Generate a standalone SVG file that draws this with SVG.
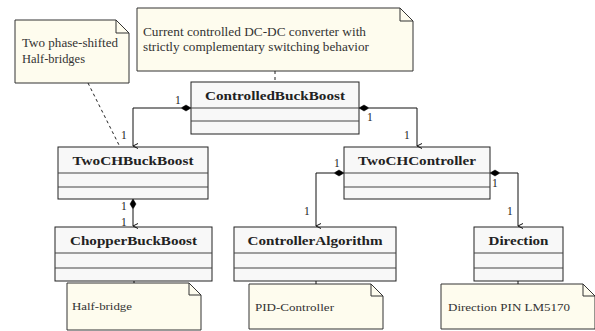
<svg xmlns="http://www.w3.org/2000/svg" width="595" height="331" viewBox="0 0 595 331">
<style>
text{font-family:'Liberation Serif','Times New Roman','DejaVu Serif',serif}
.box{fill:#f8f8f8;stroke:#222;stroke-width:1}
.div{stroke:#444;stroke-width:1}
.note{fill:#fefcee;stroke:#333;stroke-width:1}
.fold{fill:none;stroke:#333;stroke-width:1}
.title{font-weight:bold;font-size:13.5px;fill:#222;text-anchor:middle}
.ntext{font-size:12px;fill:#333}
.stext{font-size:11px;fill:#333}
.mult{font-size:11.5px;fill:#222}
.conn{fill:none;stroke:#111;stroke-width:1}
.dash{fill:none;stroke:#222;stroke-width:1;stroke-dasharray:3,3}
.dia{fill:#000;stroke:#000;stroke-width:0.5}
</style>
<defs>
<marker id="arr" markerWidth="8" markerHeight="8" refX="4" refY="7" orient="auto" markerUnits="userSpaceOnUse" viewBox="0 0 8 8">
<path d="M1.5,2 L4,7 L6.5,2" fill="none" stroke="#111" stroke-width="1"/>
</marker>
</defs>

<g id="note-halfbridges">
<path class="note" d="M15,20 H116 L129,33 V83 H15 Z"/>
<path class="fold" d="M116,20 V33 H129"/>
<text class="ntext" x="22" y="47" textLength="96" lengthAdjust="spacingAndGlyphs">Two phase-shifted</text>
<text class="ntext" x="22" y="63" textLength="63" lengthAdjust="spacingAndGlyphs">Half-bridges</text>
</g>
<g id="note-converter">
<path class="note" d="M137,8 H400 L413,21 V71 H137 Z"/>
<path class="fold" d="M400,8 V21 H413"/>
<text class="ntext" x="143" y="36" textLength="223" lengthAdjust="spacingAndGlyphs">Current controlled DC-DC converter with</text>
<text class="ntext" x="143" y="51" textLength="226" lengthAdjust="spacingAndGlyphs">strictly complementary switching behavior</text>
</g>

<g id="ControlledBuckBoost">
<rect class="box" x="191" y="82" width="168" height="52"/>
<line class="div" x1="191" y1="108" x2="359" y2="108"/>
<line class="div" x1="191" y1="121" x2="359" y2="121"/>
<text class="title" x="275" y="100" textLength="140" lengthAdjust="spacingAndGlyphs">ControlledBuckBoost</text>
</g>
<g id="TwoCHBuckBoost">
<rect class="box" x="58" y="147" width="150" height="52"/>
<line class="div" x1="58" y1="173" x2="208" y2="173"/>
<line class="div" x1="58" y1="187" x2="208" y2="187"/>
<text class="title" x="133" y="165" textLength="121" lengthAdjust="spacingAndGlyphs">TwoCHBuckBoost</text>
</g>
<g id="TwoCHController">
<rect class="box" x="344" y="147" width="146" height="52"/>
<line class="div" x1="344" y1="173" x2="490" y2="173"/>
<line class="div" x1="344" y1="187" x2="490" y2="187"/>
<text class="title" x="417" y="165" textLength="118" lengthAdjust="spacingAndGlyphs">TwoCHController</text>
</g>
<g id="ChopperBuckBoost">
<rect class="box" x="55" y="227" width="157" height="54"/>
<line class="div" x1="55" y1="253" x2="212" y2="253"/>
<line class="div" x1="55" y1="268" x2="212" y2="268"/>
<text class="title" x="133.5" y="245" textLength="127" lengthAdjust="spacingAndGlyphs">ChopperBuckBoost</text>
</g>
<g id="ControllerAlgorithm">
<rect class="box" x="234" y="227" width="162" height="54"/>
<line class="div" x1="234" y1="253" x2="396" y2="253"/>
<line class="div" x1="234" y1="268" x2="396" y2="268"/>
<text class="title" x="315" y="245" textLength="135" lengthAdjust="spacingAndGlyphs">ControllerAlgorithm</text>
</g>
<g id="Direction">
<rect class="box" x="474" y="227" width="89" height="54"/>
<line class="div" x1="474" y1="253" x2="563" y2="253"/>
<line class="div" x1="474" y1="268" x2="563" y2="268"/>
<text class="title" x="518.5" y="245" textLength="60" lengthAdjust="spacingAndGlyphs">Direction</text>
</g>

<g id="note-halfbridge">
<path class="note" d="M67,283 H189 L201,295 V330 H67 Z"/>
<path class="fold" d="M189,283 V295 H201"/>
<text class="stext" x="72" y="310" textLength="60" lengthAdjust="spacingAndGlyphs">Half-bridge</text>
</g>
<g id="note-pid">
<path class="note" d="M249,284 H371 L383,296 V329 H249 Z"/>
<path class="fold" d="M371,284 V296 H383"/>
<text class="stext" x="255" y="311" textLength="79" lengthAdjust="spacingAndGlyphs">PID-Controller</text>
</g>
<g id="note-direction">
<path class="note" d="M441,284 H583 L595,296 V329 H441 Z"/>
<path class="fold" d="M583,284 V296 H595"/>
<text class="stext" x="448" y="311" textLength="122" lengthAdjust="spacingAndGlyphs">Direction PIN LM5170</text>
</g>

<g id="connectors">
<path class="conn" d="M181,108 H133 V146" marker-end="url(#arr)"/>
<path class="dia" d="M181,108 L186,105 L191,108 L186,111 Z"/>
<path class="conn" d="M369,108 H417 V146" marker-end="url(#arr)"/>
<path class="dia" d="M359,108 L364,105 L369,108 L364,111 Z"/>
<path class="conn" d="M133,209 V226" marker-end="url(#arr)"/>
<path class="dia" d="M133,199 L136,204 L133,209 L130,204 Z"/>
<path class="conn" d="M334,173 H316 V226" marker-end="url(#arr)"/>
<path class="dia" d="M334,173 L339,170 L344,173 L339,176 Z"/>
<path class="conn" d="M500,173 H518 V226" marker-end="url(#arr)"/>
<path class="dia" d="M490,173 L495,170 L500,173 L495,176 Z"/>
<line class="dash" x1="88" y1="83" x2="120" y2="147"/>
<line class="dash" x1="275" y1="71" x2="275" y2="82"/>
<line class="conn" x1="134" y1="281" x2="134" y2="283"/>
<line class="conn" x1="316" y1="281" x2="316" y2="284"/>
<line class="conn" x1="518" y1="281" x2="518" y2="284"/>
<text class="mult" x="175" y="104">1</text>
<text class="mult" x="121" y="139">1</text>
<text class="mult" x="367" y="121">1</text>
<text class="mult" x="404" y="139">1</text>
<text class="mult" x="121" y="210">1</text>
<text class="mult" x="121" y="226">1</text>
<text class="mult" x="334" y="167">1</text>
<text class="mult" x="492" y="187">1</text>
<text class="mult" x="304" y="215">1</text>
<text class="mult" x="507" y="215">1</text>
</g>
</svg>
